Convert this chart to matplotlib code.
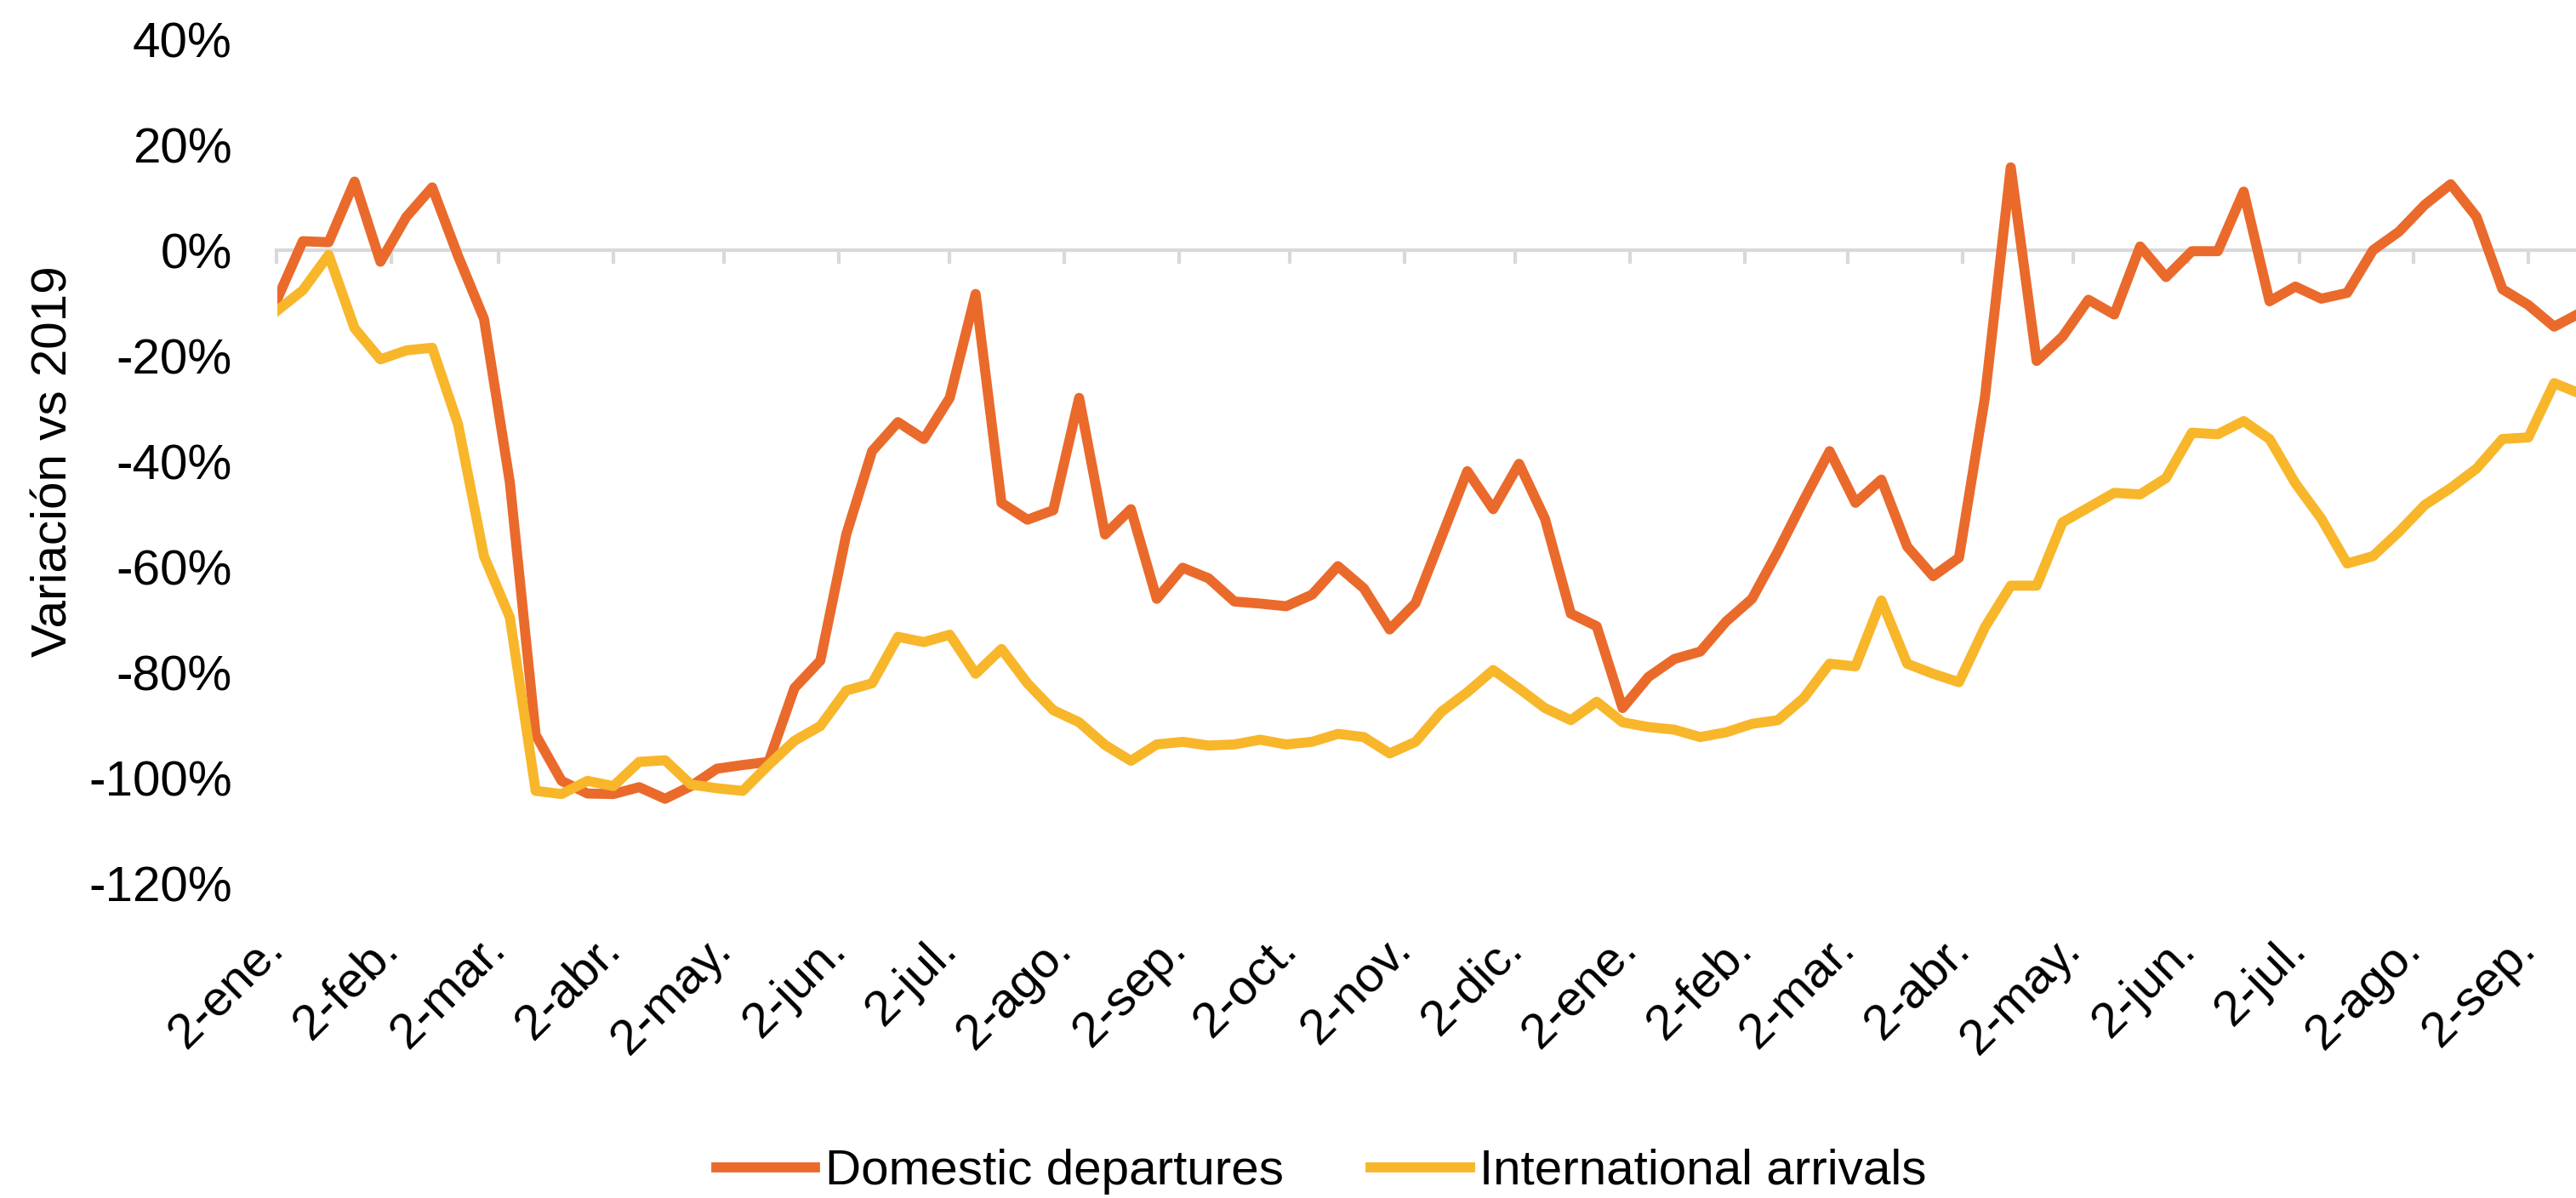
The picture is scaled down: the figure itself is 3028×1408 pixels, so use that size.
import numpy as np
import pandas as pd
import matplotlib
matplotlib.use('Agg')
import matplotlib.pyplot as plt
import matplotlib.dates as mdates
from matplotlib.ticker import FixedLocator, FuncFormatter, NullFormatter

plt.rcParams['font.family'] = ['Liberation Sans', 'DejaVu Sans']
plt.rcParams['axes.unicode_minus'] = False

# weekly observations starting 2-ene-2020
dates = pd.date_range('2020-01-02', periods=90, freq='7D')

domestic = [-9.4, 1.7, 1.5, 13.0, -2.2, 6.3, 11.9, -1.1, -13.0, -44.0,
            -91.9, -100.6, -103.0, -103.1, -101.8, -104.0, -101.6, -98.3, -97.6, -97.0,
            -83.0, -77.8, -53.9, -38.1, -32.6, -35.8, -28.0, -8.3, -47.9, -51.1,
            -49.3, -28.0, -53.9, -49.1, -66.1, -60.2, -62.2, -66.6, -67.0, -67.5,
            -65.3, -59.9, -64.1, -71.9, -66.9, -54.4, -41.9, -49.1, -40.5, -50.9,
            -68.9, -71.3, -86.8, -80.9, -77.5, -76.1, -70.4, -66.1, -57.1, -47.4,
            -38.1, -47.9, -43.5, -56.2, -61.8, -58.3, -28.0, 15.7, -21.0, -16.4,
            -9.4, -12.2, 0.7, -5.1, -0.2, -0.2, 11.1, -9.7, -6.9, -9.2,
            -8.1, 0.0, 3.5, 8.6, 12.5, 6.3, -7.4, -10.4, -14.5, -11.9]

international = [-11.5, -7.6, -0.9, -14.8, -20.7, -19.0, -18.5, -33.0, -58.0, -69.6,
                 -102.5, -103.1, -100.6, -101.6, -97.0, -96.7, -101.3, -102.0, -102.5, -97.6,
                 -93.0, -90.2, -83.5, -82.1, -73.3, -74.3, -72.9, -80.3, -75.6, -82.1,
                 -87.2, -89.5, -93.8, -96.8, -93.7, -93.2, -93.9, -93.7, -92.8, -93.7,
                 -93.2, -91.7, -92.3, -95.4, -93.2, -87.5, -83.8, -79.6, -83.1, -86.8,
                 -89.1, -85.6, -89.5, -90.4, -90.9, -92.3, -91.4, -89.8, -89.1, -84.9,
                 -78.4, -78.9, -66.4, -78.4, -80.3, -81.9, -71.5, -63.6, -63.6, -51.6,
                 -48.8, -46.0, -46.3, -43.2, -34.6, -34.9, -32.4, -35.8, -44.2, -50.9,
                 -59.4, -58.0, -53.4, -48.3, -45.1, -41.4, -35.8, -35.5, -25.2, -27.2]

month_labels = ['ene.', 'feb.', 'mar.', 'abr.', 'may.', 'jun.', 'jul.', 'ago.',
                'sep.', 'oct.', 'nov.', 'dic.', 'ene.', 'feb.', 'mar.', 'abr.',
                'may.', 'jun.', 'jul.', 'ago.', 'sep.']
tick_dates = pd.date_range('2020-01-02', periods=len(month_labels),
                           freq=pd.DateOffset(months=1))
y_ticks = [40, 20, 0, -20, -40, -60, -80, -100, -120]

orange = '#EA6A2C'
yellow = '#F8B62A'
grid_grey = '#D9D9D9'

fig = plt.figure(figsize=(30.28, 14.08), dpi=100)
ax = fig.add_axes([325.5 / 3028, 1 - 1038 / 1408, (3028 - 325.5) / 3028, (1038 - 46) / 1408])

ax.plot(dates, domestic, color=orange, lw=8.5, solid_joinstyle='round',
        label='Domestic departures', zorder=3)
ax.plot(dates, international, color=yellow, lw=8.5, solid_joinstyle='round',
        label='International arrivals', zorder=3)

x0 = mdates.date2num(pd.Timestamp('2020-01-02'))
ax.set_xlim(x0, x0 + 621.9)
ax.set_ylim(-120, 40)

for s in ax.spines.values():
    s.set_visible(False)

ax.set_yticks(y_ticks)
ax.yaxis.set_major_formatter(FuncFormatter(lambda v, p: '%d%%' % v))
ax.tick_params(axis='y', length=0, pad=38, labelsize=42)

ax.xaxis.set_major_locator(FixedLocator(mdates.date2num(tick_dates)))
ax.set_xticklabels(['2-' + m for m in month_labels])
ax.tick_params(axis='x', length=0, pad=50, labelsize=42)
for lbl in ax.get_xticklabels():
    lbl.set_rotation(45)
    lbl.set_ha('right')
    lbl.set_va('center')
    lbl.set_rotation_mode('anchor')

# horizontal axis drawn across at 0 %
zero_ax = ax.secondary_xaxis(0.75)
zero_ax.set_xticks(mdates.date2num(tick_dates))
zero_ax.xaxis.set_major_formatter(NullFormatter())
zero_ax.xaxis.set_ticks_position('bottom')
zero_ax.tick_params(axis='x', direction='out', length=11.5, width=3, color=grid_grey,
                    labelbottom=False, labeltop=False)
for s in zero_ax.spines.values():
    s.set_color(grid_grey)
    s.set_linewidth(3)
zero_ax.set_zorder(1)

ax.set_ylabel('Variación vs 2019', fontsize=42, va='center')
ax.yaxis.set_label_coords((64 - 325.5) / 2702.5, 0.5)

fig.legend(loc='center', bbox_to_anchor=(0.513, 1 - 1377 / 1408), ncol=2,
           frameon=False, fontsize=42, handlelength=2.0, handletextpad=0.2,
           columnspacing=1.75)

fig.savefig('out.png', dpi=100)
